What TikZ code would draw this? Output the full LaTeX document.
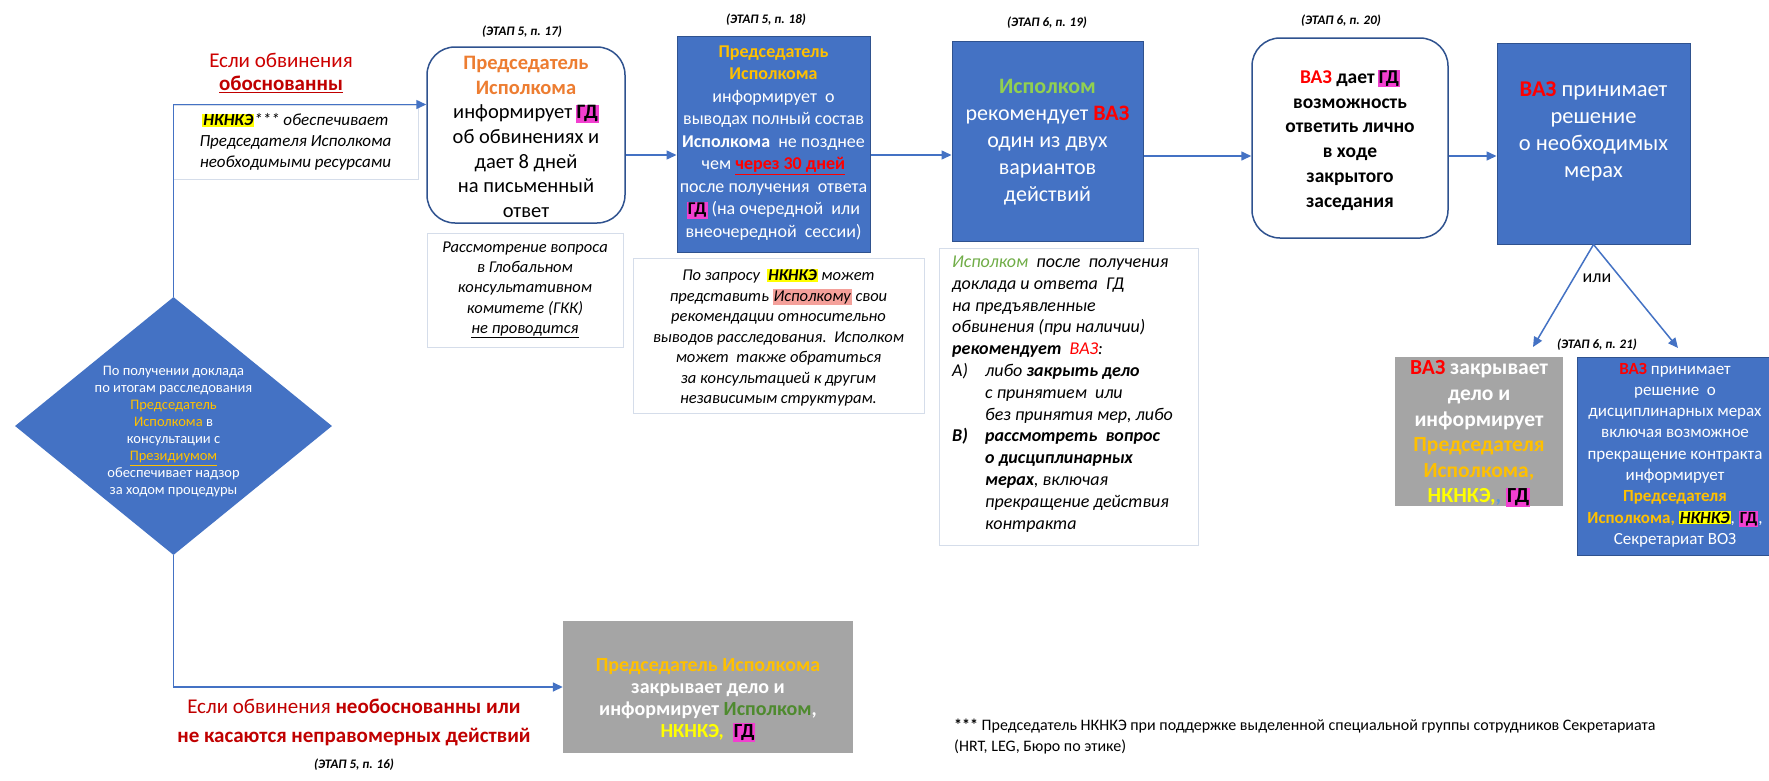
\documentclass[tikz,border=0pt]{standalone}
\usepackage{fontspec}
\setmainfont{Carlito}
\usetikzlibrary{arrows.meta,shapes.geometric,calc}
\definecolor{obl}{HTML}{4472C4}
\definecolor{obd}{HTML}{2F528F}
\definecolor{ogold}{HTML}{FFC000}
\definecolor{oorange}{HTML}{ED7D31}
\definecolor{ogreen}{HTML}{92D050}
\definecolor{ogreen2}{HTML}{70AD47}
\definecolor{dkgreen}{HTML}{4E8A2E}
\definecolor{ored}{HTML}{FF0000}
\definecolor{dred}{HTML}{C00000}
\definecolor{hlmag}{HTML}{F23FD0}
\definecolor{hlyel}{HTML}{FFFF00}
\definecolor{hlpink}{HTML}{F4A09A}
\definecolor{ogray}{HTML}{A5A5A5}
\definecolor{notebd}{HTML}{D5DDEA}
\definecolor{ltblue}{HTML}{5B9BD5}
\newcommand\hlm[1]{{\setlength{\fboxsep}{1pt}\colorbox{hlmag}{\color{black}#1}}}
\newcommand\hly[1]{{\setlength{\fboxsep}{1pt}\colorbox{hlyel}{\color{black}#1}}}
\newcommand\hlp[1]{{\setlength{\fboxsep}{1pt}\colorbox{hlpink}{#1}}}
\tikzset{
  conn/.style={draw=obl, line width=1.5pt},
  arr/.style={conn, -{Triangle[length=10pt,width=9pt]}},
  bluebox/.style={draw=obd, line width=1pt, fill=obl, inner sep=0pt},
  rbox/.style={draw=obd, line width=1.5pt, fill=white, rounded corners=28pt, inner sep=0pt},
  graybox/.style={fill=ogray, draw=none, inner sep=0pt},
  notebox/.style={draw=notebd, line width=1pt, fill=white, inner sep=0pt},
  txt/.style={align=center, inner sep=0pt},
  stage/.style={font=\fontsize{13}{15}\selectfont\bfseries\itshape, inner sep=0pt},
}
\begin{document}
\begin{tikzpicture}[x=1pt,y=-1pt]
\clip (0,0) rectangle (1769,780);
\fill[white] (0,0) rectangle (1769,780);

% diamond
\node[diamond, fill=obl, draw=none, minimum width=317pt, minimum height=258pt, inner sep=0pt] (dia) at (173.5,426) {};
\node[txt, text=white, font=\fontsize{14.5}{17}\selectfont] (diat) at (173.5,432) {По получении доклада\\по итогам расследования\\\textcolor{ogold}{Председатель}\\\textcolor{ogold}{Исполкома} в\\консультации с\\\textcolor{ogold}{\underline{Президиумом}}\\обеспечивает надзор\\за ходом процедуры};

% note 1
\node[notebox, minimum width=245pt, minimum height=74pt] (note1) at (295.5,142) {};
\node[txt, font=\fontsize{17}{21}\selectfont\itshape] (note1t) at (295.5,142) {\hly{\textbf{НКНКЭ}}*** обеспечивает\\Председателя Исполкома\\необходимыми ресурсами};

\node[txt, text=dred!80!red, font=\fontsize{21}{23}\selectfont] (ifyes) at (281,60) {Если обвинения};
\node[txt, text=dred, font=\fontsize{21}{23}\selectfont\bfseries] (ifyes2) at (281,84) {\underline{обоснованны}};

% stage labels
\node[stage] (s17) at (522,32) {(ЭТАП 5, п. 17)};
\node[stage] (s18) at (766,20) {(ЭТАП 5, п. 18)};
\node[stage] (s19) at (1047,23) {(ЭТАП 6, п. 19)};
\node[stage] (s20) at (1341,21) {(ЭТАП 6, п. 20)};
\node[stage] (s21) at (1597,345) {(ЭТАП 6, п. 21)};
\node[stage] (s16) at (354,765) {(ЭТАП 5, п. 16)};

% box 1
\node[rbox, minimum width=198pt, minimum height=176pt] (box1) at (526,135) {};
\node[txt, font=\fontsize{20.5}{24.6}\selectfont] (box1t) at (526,137) {\textcolor{oorange}{\textbf{Председатель}}\\\textcolor{oorange}{\textbf{Исполкома}}\\информирует\,\hlm{\textbf{ГД}}\\об обвинениях и\\дает 8 дней\\на письменный\\ответ};

% note 2
\node[notebox, minimum width=196pt, minimum height=114pt] (note2) at (525,290) {};
\node[txt, font=\fontsize{16.5}{20.3}\selectfont\itshape] (note2t) at (525,290) {Рассмотрение вопроса\\в Глобальном\\консультативном\\комитете (ГКК)\\\underline{не проводится}};

% box 2
\node[bluebox, minimum width=193pt, minimum height=216pt] (box2) at (773.5,144) {};
\node[txt, text=white, font=\fontsize{18}{22.5}\selectfont] (box2t) at (773.5,143) {\textcolor{ogold}{\textbf{Председатель}}\\\textcolor{ogold}{\textbf{Исполкома}}\\информирует\ \ о\\выводах полный состав\\\textbf{Исполкома}\ \ не позднее\\чем \textcolor{ored}{\textbf{\underline{через 30 дней}}}\\после получения\ \ ответа\\\hlm{\textbf{ГД}} (на очередной\ \ или\\внеочередной\ \ сессии)};

% note 3
\node[notebox, minimum width=291pt, minimum height=155pt] (note3) at (778.5,335.5) {};
\node[txt, font=\fontsize{16.5}{20.5}\selectfont\itshape] (note3t) at (778.5,337.5) {По запросу\ \ \hly{\textbf{НКНКЭ}} может\\представить \hlp{Исполкому} свои\\рекомендации относительно\\выводов расследования.\ \ Исполком\\может\ \ также обратиться\\за консультацией к другим\\независимым структурам.};

% box 3
\node[bluebox, minimum width=191pt, minimum height=200pt] (box3) at (1047.5,141) {};
\node[txt, text=white, font=\fontsize{22}{27}\selectfont] (box3t) at (1047.5,142) {\textcolor{ogreen}{\textbf{Исполком}}\\рекомендует \textcolor{ored}{\textbf{ВАЗ}}\\один из двух\\вариантов\\действий};

% note 4
\node[notebox, minimum width=259pt, minimum height=297pt] (note4) at (1068.5,396.5) {};
\node[anchor=west, align=left, inner sep=0pt, font=\fontsize{18}{21.8}\selectfont\itshape] (note4t) at (952,394) {\textcolor{ogreen2}{Исполком}\ \ после\ \ получения\\доклада и ответа\ \ ГД\\на предъявленные\\обвинения (при наличии)\\\textbf{рекомендует}\ \ \textcolor{ored}{ВАЗ}:\\\makebox[33pt][l]{А)}либо \textbf{закрыть дело}\\\hspace*{33pt}с принятием\ \ или\\\hspace*{33pt}без принятия мер, либо\\\makebox[33pt][l]{\textbf{В)}}\textbf{рассмотреть\ \ вопрос}\\\hspace*{33pt}\textbf{о дисциплинарных}\\\hspace*{33pt}\textbf{мерах}, включая\\\hspace*{33pt}прекращение действия\\\hspace*{33pt}контракта};

% box 4
\node[rbox, minimum width=196pt, minimum height=200pt] (box4) at (1350,138) {};
\node[txt, font=\fontsize{19.5}{24.8}\selectfont\bfseries] (box4t) at (1350,140) {\textcolor{ored}{ВАЗ} дает\,\hlm{ГД}\\возможность\\ответить лично\\в ходе\\закрытого\\заседания};

% box 5
\node[bluebox, minimum width=193pt, minimum height=201pt] (box5) at (1593.5,143.5) {};
\node[txt, text=white, font=\fontsize{22.5}{27}\selectfont] (box5t) at (1593.5,131) {\textcolor{ored}{\textbf{ВАЗ}} принимает\\решение\\о необходимых\\мерах};

% gray right
\node[graybox, minimum width=168pt, minimum height=149pt] (gr) at (1479,431.5) {};
\node[txt, text=white, font=\fontsize{21.5}{25.6}\selectfont\bfseries] (grt) at (1479,434) {\textcolor{ored}{ВАЗ} закрывает\\дело и\\информирует\\\textcolor{ogold}{Председателя}\\\textcolor{ogold}{Исполкома,}\\\textcolor{hlyel}{НКНКЭ,}\textcolor{ltblue}{,} \hlm{ГД}};

% blue right
\node[bluebox, minimum width=210pt, minimum height=198pt] (br) at (1682,456) {};
\node[txt, text=white, font=\fontsize{17}{21.3}\selectfont] (brt) at (1675,455) {\textcolor{ored}{\textbf{ВАЗ}} принимает\\решение\ \ о\\дисциплинарных мерах\\включая возможное\\прекращение контракта\\информирует\\\textcolor{ogold}{\textbf{Председателя}}\\\textcolor{ogold}{\textbf{Исполкома,}} \hly{\textbf{\textit{НКНКЭ}}}, \hlm{\textbf{ГД}},\\Секретариат ВОЗ};

\node[txt, font=\fontsize{18}{20}\selectfont] (ili) at (1597,278) {или};

% gray bottom
\node[graybox, minimum width=290pt, minimum height=132pt] (gb) at (708,687) {};
\node[txt, text=white, font=\fontsize{20}{22}\selectfont\bfseries] (gbt) at (708,700) {\textcolor{ogold}{Председатель Исполкома}\\закрывает дело и\\информирует \textcolor{dkgreen}{Исполком},\\\textcolor{hlyel}{НКНКЭ,}\ \ \hlm{ГД}};

\node[txt, text=dred, font=\fontsize{21}{29}\selectfont] (ifno) at (354,722) {Если обвинения \textbf{необоснованны или}\\\textbf{не касаются неправомерных действий}};

% footnote
\node[anchor=west, align=left, inner sep=0pt, font=\fontsize{16}{21}\selectfont] (foot) at (954,736.5) {\textbf{***} Председатель НКНКЭ при поддержке выделенной специальной группы сотрудников Секретариата\\(HRT, LEG, Бюро по этике)};

% connectors
\coordinate (row) at (0,155);
\coordinate (row2) at (0,156);
\coordinate (ta) at (1533,347);
\coordinate (tb) at (1678,348);
\draw[arr] (dia.north) |- (box1.west |- note1.north);
\draw[arr] (dia.south) |- (gb.west);
\draw[arr] (box1.east |- row) -- (box2.west |- row);
\draw[arr] (box2.east |- row) -- (box3.west |- row);
\draw[arr] (box3.east |- row2) -- (box4.west |- row2);
\draw[arr] (box4.east |- row2) -- (box5.west |- row2);
\draw[arr] (box5.south) -- (ta);
\draw[arr] (box5.south) -- (tb);
\end{tikzpicture}
\end{document}
